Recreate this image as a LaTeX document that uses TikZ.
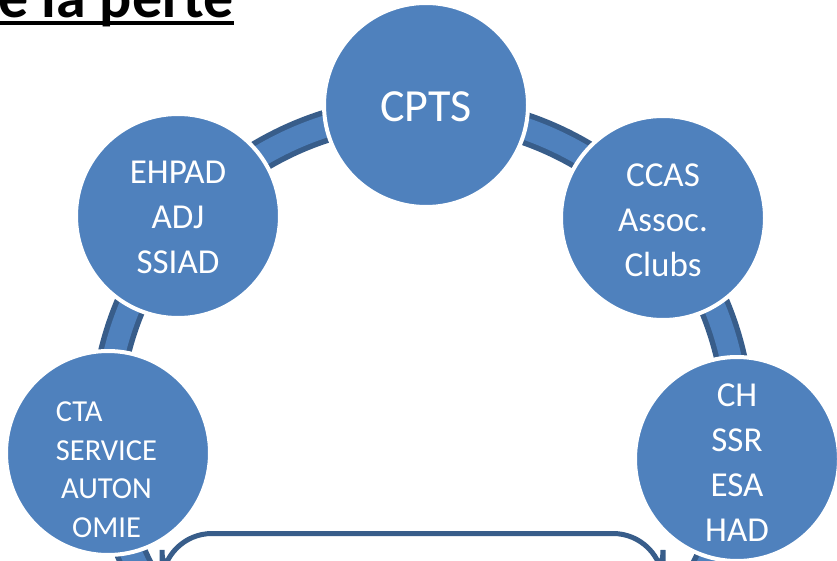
\documentclass[tikz,border=0pt]{standalone}
\usepackage{fontspec}
\setmainfont{Carlito}
\definecolor{accent}{RGB}{79,129,189}
\definecolor{accentdark}{RGB}{56,93,138}
\tikzset{
  bubble/.style={circle, fill=accent, draw=white, line width=4pt, minimum size=204pt, inner sep=0pt},
  bubbletext/.style={text=white, align=center, inner sep=0pt, font=\fontsize{35}{45}\selectfont},
}
\begin{document}
\begin{tikzpicture}[x=1pt,y=-1pt]
\useasboundingbox (0,0) rectangle (837,561);
\clip (0,0) rectangle (837,561);
% title fragment
\node[anchor=base east, inner sep=0pt, font=\fontsize{60}{72}\selectfont\bfseries] (title) at (234,18) {de la perte};
\fill[black] (0,20.7) rectangle (233.5,25);
% ring
\coordinate (ringc) at (422,428);
\draw[accentdark, line width=33pt] (ringc) circle[radius=316.5];
\draw[accent, line width=22pt] (ringc) circle[radius=316.5];
% bubbles
\node[bubble] (cpts) at (426,105) {};
\node[bubble] (ehpad) at (178,216) {};
\node[bubble] (ccas) at (663,218) {};
\node[bubble] (cta) at (108,453) {};
\node[bubble] (ch) at (737,459) {};
% texts
\node[bubbletext, font=\fontsize{46}{55}\selectfont] (cptsT) at (426,107) {CPTS};
\node[bubbletext] (ehpadT) at (178,217) {EHPAD\\ADJ\\SSIAD};
\node[bubbletext] (ccasT) at (663,220) {CCAS\\Assoc.\\Clubs};
\node[bubbletext, font=\fontsize{30.5}{38.5}\selectfont] (ctaT) at (106.5,469.5) {\rlap{CTA}\phantom{SERVICE}\\SERVICE\\AUTON\\OMIE};
\node[bubbletext] (chT) at (737,462.5) {CH\\SSR\\ESA\\HAD};
% bottom rounded box
\draw[accentdark, line width=5pt, fill=white, rounded corners=50pt] (162,600) rectangle (663,533.5);
\node[inner sep=0pt] (box) at (412.5,566) {};
\end{tikzpicture}
\end{document}
